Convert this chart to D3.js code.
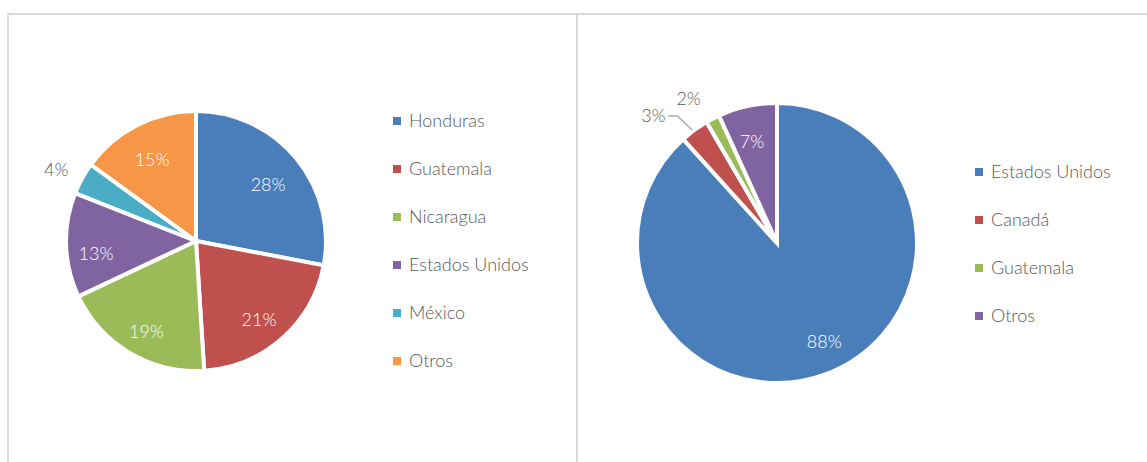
<!DOCTYPE html>
<html><head><meta charset="utf-8">
<script src="https://cdn.jsdelivr.net/npm/d3@7"></script>
<style>
html,body{margin:0;padding:0;background:#fff;}
svg{display:block;font-family:Lato,"Open Sans",sans-serif;font-weight:300;}
</style></head>
<body>
<svg id="chart" width="1147" height="462"></svg>
<script>
// ---- data ----
const leftCategories = ["Honduras","Guatemala","Nicaragua","Estados Unidos","México","Otros"];
const leftValues = [28, 21, 19, 13, 4, 15];
const leftLabels = ["28%","21%","19%","13%","4%","15%"];
const leftColors = ["#4a7ebb","#c0504d","#9bbb59","#8064a2","#4bacc6","#f79646"];

const rightCategories = ["Estados Unidos","Canadá","Guatemala","Otros"];
const rightValues = [88.3, 3.3, 1.6, 6.8];
const rightLabels = ["88%","3%","2%","7%"];
const rightColors = ["#4a7ebb","#c0504d","#9bbb59","#8064a2"];

const svg = d3.select("#chart");
const textColor = "#595959";
const fontSize = 18;

// panel borders
svg.append("path")
  .attr("d","M8,470 L8,14 L1160,14 M577,14 L577,470")
  .attr("fill","none").attr("stroke","#d9d9d9").attr("stroke-width",2);

function drawPie(opts){
  const g = svg.append("g").attr("transform",`translate(${opts.cx},${opts.cy})`);
  const pie = d3.pie().sort(null).value(d=>d.v);
  const data = pie(opts.values.map((v,i)=>({v, i})));
  const arc = d3.arc().innerRadius(0).outerRadius(opts.r);
  g.selectAll("path.slice").data(data).join("path")
    .attr("class","slice")
    .attr("d",arc)
    .attr("fill",d=>opts.colors[d.data.i])
    .attr("stroke","#fff").attr("stroke-width",4).attr("stroke-linejoin","miter");
  data.forEach(d=>{
    const i = d.data.i;
    const cfg = opts.labelCfg[i];
    const mid = (d.startAngle+d.endAngle)/2;
    const rr = opts.r*cfg.k;
    const x = Math.sin(mid)*rr + (cfg.dx||0);
    const y = -Math.cos(mid)*rr + (cfg.dy||0);
    g.append("text")
      .attr("x",x).attr("y",y).attr("dy","0.35em")
      .attr("text-anchor","middle")
      .attr("font-size",fontSize)
      .attr("fill",cfg.outside ? textColor : "#fff")
      .text(opts.labels[i]);
    if(cfg.leader){
      const a = d3.arc().innerRadius(opts.r).outerRadius(opts.r);
      const p = a.centroid(d);
      g.append("path")
        .attr("d",`M${x+cfg.leader},${y} L${x+cfg.leader+9},${y} L${p[0]-2},${p[1]}`)
        .attr("fill","none").attr("stroke","#a6a6a6").attr("stroke-width",1.3);
    }
  });
  // legend
  const lg = svg.append("g");
  opts.categories.forEach((c,i)=>{
    const y = opts.legendY + i*48;
    lg.append("rect").attr("x",opts.legendX).attr("y",y-4).attr("width",8).attr("height",8)
      .attr("fill",opts.colors[i]);
    lg.append("text").attr("x",opts.legendX+16).attr("y",y).attr("dy","0.35em")
      .attr("font-size",fontSize).attr("fill",textColor).text(c);
  });
}

drawPie({
  cx:196, cy:241, r:130,
  values:leftValues, labels:leftLabels, colors:leftColors, categories:leftCategories,
  labelCfg:[{k:0.72,dy:3},{k:0.78,dx:-4,dy:3},{k:0.78,dx:2,dy:3},{k:0.77,dy:10},{k:1.2,outside:true,dx:-3,dy:4},{k:0.71,dx:-2,dy:1}],
  legendX:393, legendY:121
});

drawPie({
  cx:777, cy:243, r:140,
  values:rightValues, labels:rightLabels, colors:rightColors, categories:rightCategories,
  labelCfg:[{k:0.78,dx:8,dy:-3},{k:1.0,outside:true,dx:-41,dy:-14,leader:15},{k:1.0,outside:true,dx:-24,dy:-20},{k:0.74,dx:-3}],
  legendX:975, legendY:172
});
</script>
</body></html>
